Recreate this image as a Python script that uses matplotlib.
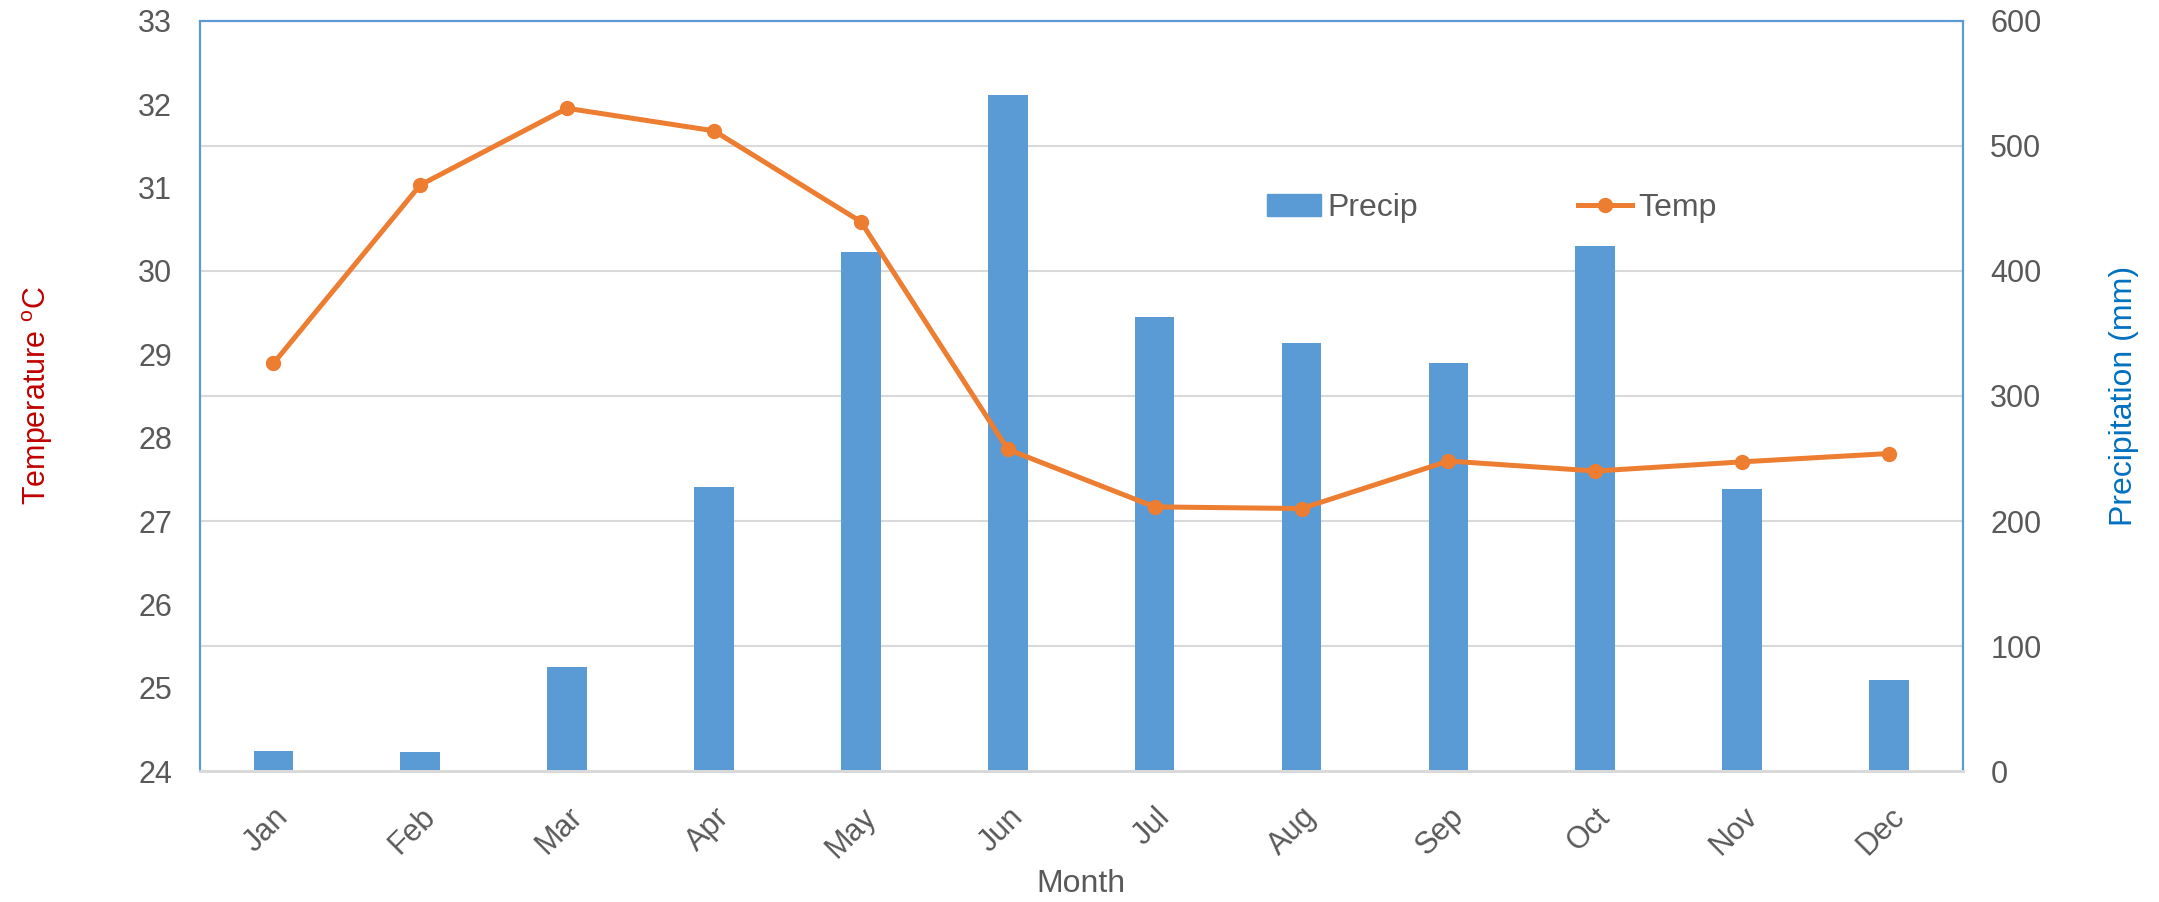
import matplotlib
matplotlib.use("Agg")
import matplotlib.pyplot as plt
from matplotlib.lines import Line2D
from matplotlib.patches import Patch
import numpy as np

plt.rcParams['font.family'] = ['Liberation Sans', 'DejaVu Sans']

months = ["Jan", "Feb", "Mar", "Apr", "May", "Jun", "Jul", "Aug", "Sep", "Oct", "Nov", "Dec"]
precip = [16, 15, 83, 227, 415, 541, 363, 342, 326, 420, 226, 73]
temp = [28.89, 31.03, 31.95, 31.68, 30.59, 27.86, 27.17, 27.15, 27.72, 27.60, 27.71, 27.81]
temp_ticks = [24, 25, 26, 27, 28, 29, 30, 31, 32, 33]
precip_ticks = [0, 100, 200, 300, 400, 500, 600]

BAR = '#5B9BD5'
LINE = '#ED7D31'
TXT = '#595959'
GRID = '#D9D9D9'
SPINE = '#5B9BD5'

fig = plt.figure(figsize=(21.59, 9.02), dpi=100)
ax = fig.add_axes([0.0926, 0.145, 0.909 - 0.0926, 0.977 - 0.145])
ax2 = ax.twinx()
ax.set_zorder(ax2.get_zorder() + 1)
ax.patch.set_visible(False)

x = np.arange(len(months))
ax2.bar(x, precip, width=0.27, color=BAR, zorder=2)
ax2.set_ylim(0, 600)
ax2.set_yticks(precip_ticks)
ax2.yaxis.grid(True, color=GRID, lw=1.5, zorder=0)
ax2.set_axisbelow(True)

ax.plot(x, temp, color=LINE, lw=3.6, marker='o', markersize=10, zorder=3)
ax.set_ylim(24, 33)
ax.set_yticks(temp_ticks)
ax.set_xlim(-0.5, len(months) - 0.5)
ax.set_xticks(x)
ax.set_xticklabels(months, rotation=45, ha='right', rotation_mode='anchor')

for a in (ax, ax2):
    for s in ('left', 'right', 'top'):
        a.spines[s].set_color(SPINE)
        a.spines[s].set_linewidth(1.5)
    a.spines['bottom'].set_color(GRID)
    a.spines['bottom'].set_linewidth(2)

ax.tick_params(axis='y', length=0, pad=20, labelsize=22, labelcolor=TXT)
ax.tick_params(axis='x', length=0, pad=22, labelsize=22, labelcolor=TXT)
ax2.tick_params(axis='y', length=0, pad=20, labelsize=22, labelcolor=TXT)

ax.set_xlabel("Month", fontsize=23, color=TXT)
ax.xaxis.set_label_coords(0.5, -0.13)
ax.set_ylabel("Temperature $\\mathregular{^o}$C", fontsize=22, color='#C00000')
ax.yaxis.set_label_coords(-0.082, 0.5)
ax2.set_ylabel("Precipitation (mm)", fontsize=23, color='#0070C0')
ax2.yaxis.set_label_coords(1.083, 0.5)

handles = [Patch(color=BAR, label='Precip'),
           Line2D([0], [0], color=LINE, lw=3.6, marker='o', markersize=10, label='Temp')]
leg = ax.legend(handles=handles, loc='center', bbox_to_anchor=(0.733, 0.75), ncol=2,
                frameon=False, fontsize=23, handlelength=1.7, handletextpad=0.2,
                columnspacing=5.0, labelcolor=TXT)

fig.savefig("out.png", dpi=100, facecolor='white')
